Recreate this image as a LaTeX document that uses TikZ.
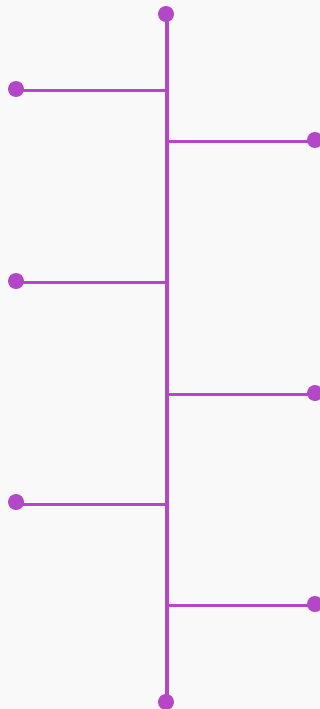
\documentclass[tikz,border=0pt]{standalone}
\usetikzlibrary{positioning}
\definecolor{tlpurple}{HTML}{B447C8}
\definecolor{tlbg}{HTML}{F9F9F9}
\tikzset{
  tldot/.style={circle, fill=tlpurple, inner sep=0pt, minimum size=16pt},
  tlline/.style={draw=tlpurple, line width=3.2pt}
}
\begin{document}
\begin{tikzpicture}[x=1pt, y=-1pt]
    % Nền
    \fill[tlbg] (0,0) rectangle (320,709);
    \useasboundingbox (0,0) rectangle (320,709);

    % Hai đầu của trục dọc
    \node[tldot] (top) at (166,14) {};
    \node[tldot] (bot) at (166,702) {};
    \draw[tlline] (167,14) -- (167,702);

    % Các điểm nối trên trục
    \coordinate (j1) at (167,90.5);
    \coordinate (j2) at (167,141.5);
    \coordinate (j3) at (167,282.5);
    \coordinate (j4) at (167,394.5);
    \coordinate (j5) at (167,504.5);
    \coordinate (j6) at (167,605.5);

    % Nhánh trái
    \draw[tlline] (16,90.5) -- (j1);
    \draw[tlline] (16,282.5) -- (j3);
    \draw[tlline] (16,504.5) -- (j5);
    \node[tldot] (l1) at (16,89) {};
    \node[tldot] (l2) at (16,281) {};
    \node[tldot] (l3) at (16,502) {};

    % Nhánh phải
    \draw[tlline] (j2) -- (315,141.5);
    \draw[tlline] (j4) -- (315,394.5);
    \draw[tlline] (j6) -- (315,605.5);
    \node[tldot] (r1) at (315,140) {};
    \node[tldot] (r2) at (315,393) {};
    \node[tldot] (r3) at (315,604) {};
\end{tikzpicture}
\end{document}
